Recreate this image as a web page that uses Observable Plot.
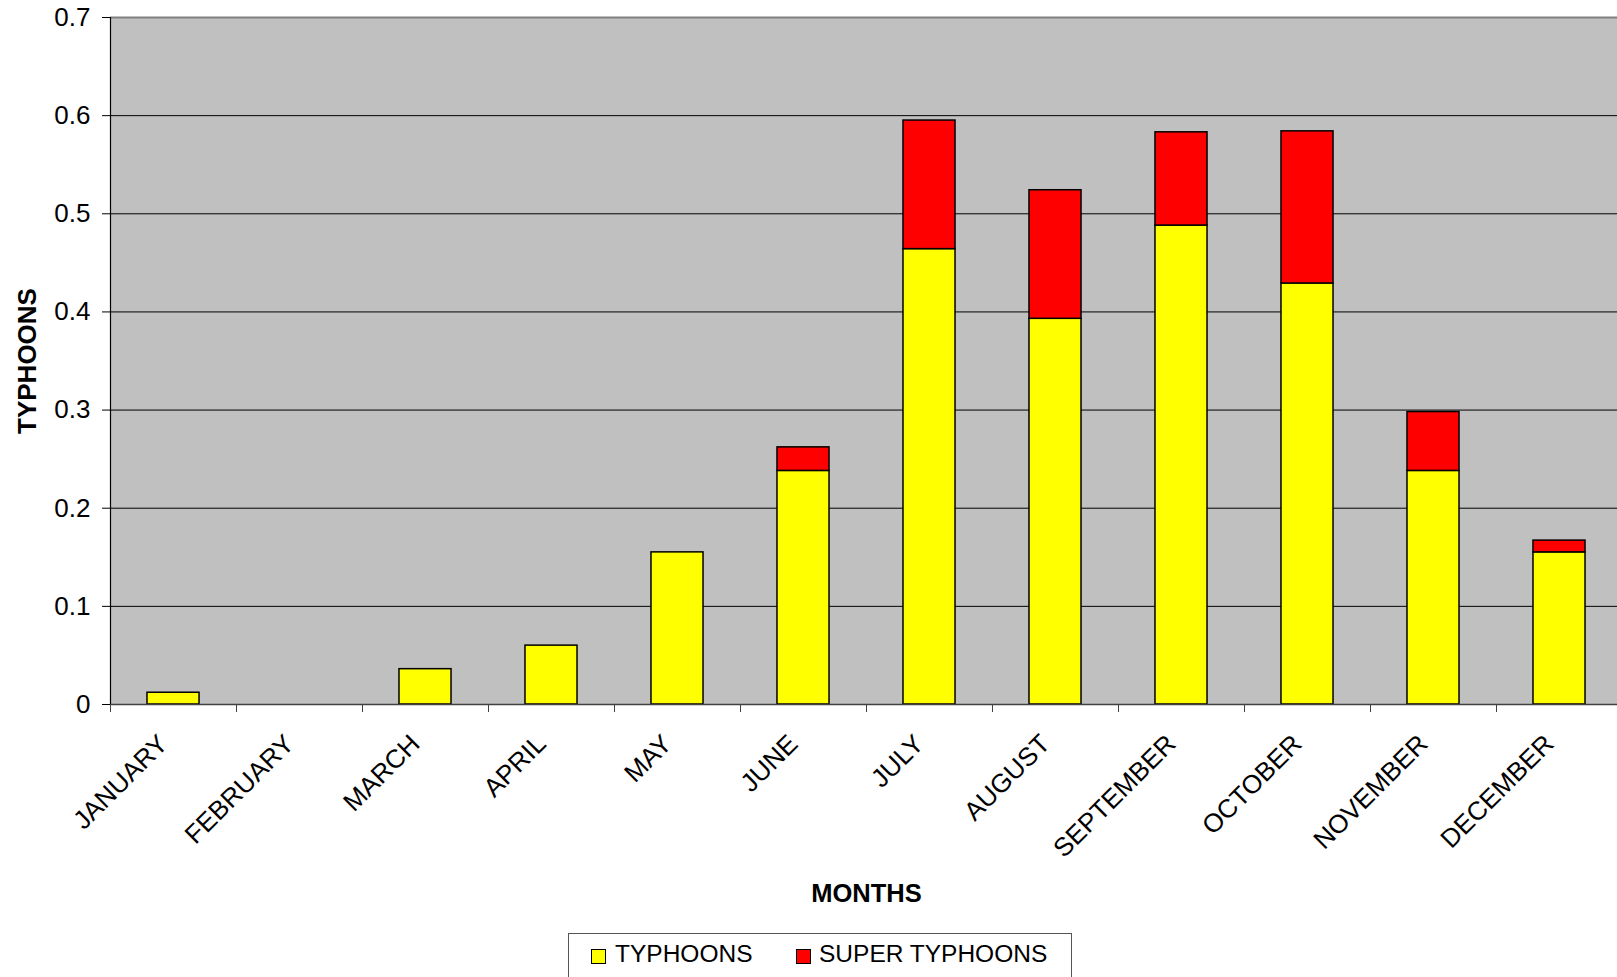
<!DOCTYPE html>
<html>
<head>
<meta charset="utf-8">
<script src="https://cdn.jsdelivr.net/npm/d3@7"></script>
<script src="https://cdn.jsdelivr.net/npm/@observablehq/plot@0.6"></script>
<style>
  html, body { margin: 0; padding: 0; background: #fff; overflow: hidden; }
  #wrap { position: relative; width: 1617px; height: 977px; overflow: hidden;
          font-family: "Liberation Sans", Arial, sans-serif; color: #000; }
  #chart svg { display: block; max-width: none !important; }
  #legend { position: absolute; left: 568px; top: 933px; width: 504px; height: 70px;
            border: 1px solid #555; background: #fff; box-sizing: border-box; }
  #legend .sw { position: absolute; top: 15px; width: 13px; height: 13px; border: 1px solid #000; }
  #legend .lab { position: absolute; top: 8px; font-size: 24.5px; line-height: 24px; white-space: nowrap; }
</style>
</head>
<body>
<div id="wrap">
  <div id="chart"></div>
  <div id="legend"></div>
</div>
<script>
// Monthly average number of typhoons and super typhoons
const months = ["JANUARY", "FEBRUARY", "MARCH", "APRIL", "MAY", "JUNE",
                "JULY", "AUGUST", "SEPTEMBER", "OCTOBER", "NOVEMBER", "DECEMBER"];
const typhoons      = [0.012, 0, 0.036, 0.060, 0.155, 0.238, 0.464, 0.393, 0.488, 0.429, 0.238, 0.155];
const superTyphoons = [0,     0, 0,     0,     0,     0.024, 0.131, 0.131, 0.095, 0.155, 0.060, 0.012];
const seriesNames = ["TYPHOONS", "SUPER TYPHOONS"];
const seriesColors = ["#ffff00", "#ff0000"];
const yTicks = [0, 0.1, 0.2, 0.3, 0.4, 0.5, 0.6, 0.7];
const gridTicks = [0.1, 0.2, 0.3, 0.4, 0.5, 0.6];
const xTitle = "MONTHS";
const yTitle = "TYPHOONS";

// long-format rows for the stacked bars (zero segments are not drawn)
const rows = [];
months.forEach((m, i) => {
  rows.push({month: m, series: seriesNames[0], value: typhoons[i]});
  rows.push({month: m, series: seriesNames[1], value: superTyphoons[i]});
});

const FONT = "'Liberation Sans', Arial, sans-serif";
const halfStep = 63; // half of a category step, to put ticks on category boundaries

const chart = Plot.plot({
  width: 1622,
  height: 920,
  marginTop: 17,
  marginBottom: 216,
  marginLeft: 110,
  marginRight: 0,
  style: {fontFamily: FONT, fontSize: "26px", color: "#000", background: "transparent",
          overflow: "visible", maxWidth: "none"},
  x: {domain: months, paddingInner: 0.587, paddingOuter: 0.2935, round: false, axis: null},
  y: {domain: [0, 0.7], axis: null},
  color: {domain: seriesNames, range: seriesColors},
  marks: [
    Plot.frame({fill: "#c0c0c0", stroke: null}),
    Plot.gridY(gridTicks, {stroke: "#000", strokeOpacity: 1, strokeWidth: 1}),
    Plot.ruleY([0.7], {stroke: "#808080", strokeWidth: 2}),
    Plot.barY(rows.filter(d => d.value > 0), {
      x: "month", y: "value", fill: "series", stroke: "#000", strokeWidth: 1.5,
      order: seriesNames
    }),
    Plot.ruleY([0], {stroke: "#404040", strokeWidth: 1.5}),
    Plot.ruleX([months[0]], {x: d => d, dx: -halfStep, y1: 0, y2: 0.7, stroke: "#000", strokeWidth: 1.2}),
    // y axis ticks and labels
    Plot.axisY({ticks: yTicks, tickSize: 8, tickPadding: 12, fontSize: 26, stroke: "#000",
                tickFormat: d => String(+d.toFixed(1)), label: null}),
    // x axis boundary ticks
    Plot.axisX({tickSize: 8, tickFormat: () => "", dx: -halfStep, stroke: "#404040", label: null}),
    // rotated month labels
    Plot.text(months, {x: d => d, frameAnchor: "bottom", dx: -10, dy: 35, rotate: -45,
                       textAnchor: "end", lineAnchor: "middle", fontSize: 26, fill: "#000"}),
    // axis titles
    Plot.text([xTitle], {frameAnchor: "bottom", dy: 189, fontWeight: "bold", fontSize: 25.5,
                         textAnchor: "middle", lineAnchor: "middle", fill: "#000"}),
    Plot.text([yTitle], {frameAnchor: "left", dx: -83, rotate: -90, fontWeight: "bold", fontSize: 26,
                         textAnchor: "middle", lineAnchor: "middle", fill: "#000"})
  ]
});
document.getElementById("chart").append(chart);

// legend below the chart
const legend = document.getElementById("legend");
const legendPos = [[22, 46], [227, 250]];
seriesNames.forEach((name, i) => {
  const sw = document.createElement("span");
  sw.className = "sw";
  sw.style.left = legendPos[i][0] + "px";
  sw.style.background = seriesColors[i];
  const lab = document.createElement("span");
  lab.className = "lab";
  lab.style.left = legendPos[i][1] + "px";
  lab.textContent = name;
  legend.append(sw, lab);
});
</script>
</body>
</html>
